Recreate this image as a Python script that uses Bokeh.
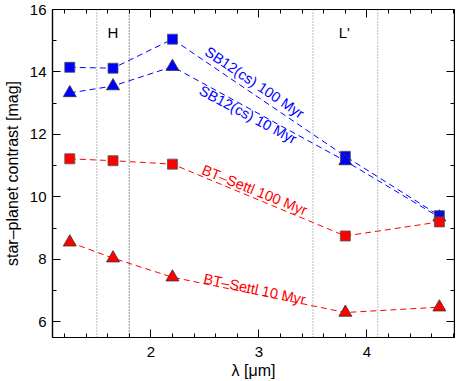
import math
from bokeh.plotting import figure
from bokeh.models import (LinearAxis, Span, Label, SingleIntervalTicker, ColumnDataSource,
                          CustomJSTickFormatter)
from bokeh.embed import file_html
from bokeh.resources import INLINE

# Data
wavelength = [1.25, 1.65, 2.2, 3.8, 4.67]
sb12_100 = [14.15, 14.12, 15.05, 11.3, 9.4]
sb12_10 = [13.33, 13.55, 14.17, 11.15, 9.35]
bt_100 = [11.22, 11.16, 11.05, 8.75, 9.2]
bt_10 = [8.55, 8.04, 7.43, 6.3, 6.47]
band_edges = [1.5, 1.8, 3.5, 4.1]
band_edge_colors = ["#777777", "#222222", "#777777", "#777777"]
band_names = ["H", "L'"]
band_centers = [1.65, 3.79]

FONT = "Liberation Sans"
BLUE = "#0000ff"
RED = "#ff0000"

p = figure(width=455, height=389, x_range=(1.09, 4.81), y_range=(5.5, 16),
           output_backend="svg", toolbar_location=None,
           min_border_left=41, min_border_right=1, min_border_top=17, min_border_bottom=44)
p.styles = {"margin-top": "-8px"}
p.xgrid.visible = False
p.ygrid.visible = False
p.outline_line_color = "black"
p.outline_line_width = 1.2
p.background_fill_color = "white"
p.border_fill_color = "white"

def style_axis(ax):
    ax.axis_line_color = "black"
    ax.axis_line_width = 1.2
    ax.major_tick_in = 8
    ax.major_tick_out = 0
    ax.minor_tick_in = 4
    ax.minor_tick_out = 0
    ax.major_tick_line_color = "black"
    ax.minor_tick_line_color = "black"
    ax.major_label_text_font = FONT
    ax.major_label_text_font_size = "15px"
    ax.major_label_text_color = "black"
    ax.axis_label_text_font = FONT
    ax.axis_label_text_font_size = "16px"
    ax.axis_label_text_font_style = "normal"
    ax.axis_label_text_color = "black"

p.xaxis.ticker = SingleIntervalTicker(interval=1, num_minor_ticks=5)
p.yaxis.ticker = SingleIntervalTicker(interval=2, num_minor_ticks=2)
p.xaxis.axis_label = "λ [μm]"
p.yaxis.axis_label = "star–planet contrast [mag]"
style_axis(p.xaxis[0])
style_axis(p.yaxis[0])
p.xaxis.major_label_standoff = 9
p.xaxis.axis_label_standoff = 2
p.yaxis.major_label_standoff = 6
p.yaxis.axis_label_standoff = 6

blank = CustomJSTickFormatter(code="return ''")
top = LinearAxis(ticker=SingleIntervalTicker(interval=1, num_minor_ticks=5), formatter=blank)
style_axis(top)
top.major_label_standoff = 0
p.add_layout(top, "above")
right = LinearAxis(ticker=SingleIntervalTicker(interval=2, num_minor_ticks=2), formatter=blank)
style_axis(right)
right.major_label_standoff = 0
p.add_layout(right, "right")

for x, c in zip(band_edges, band_edge_colors):
    p.add_layout(Span(location=x, dimension="height", line_color=c,
                      line_dash="1 2", line_width=1))

for name, xc in zip(band_names, band_centers):
    p.add_layout(Label(x=xc, y=15.25, text=name, text_font=FONT, text_font_size="15px",
                       text_align="center", text_baseline="middle", text_color="black"))

src = ColumnDataSource(dict(x=wavelength, s100=sb12_100, s10=sb12_10, b100=bt_100, b10=bt_10))

for col, color in [("s100", BLUE), ("s10", BLUE), ("b100", RED), ("b10", RED)]:
    p.line("x", col, source=src, line_color=color, line_dash="6 4", line_width=1)

p.scatter("x", "s100", source=src, marker="square", size=10, fill_color=BLUE,
          line_color="#555555", line_width=0.8)
p.scatter("x", "s10", source=src, marker="triangle", size=13, fill_color=BLUE,
          line_color="#333333", line_width=0.8)
p.scatter("x", "b100", source=src, marker="square", size=10, fill_color=RED,
          line_color="#555555", line_width=0.8)
p.scatter("x", "b10", source=src, marker="triangle", size=13, fill_color=RED,
          line_color="#333333", line_width=0.8)

labels = [
    ("SB12(cs) 100 Myr", 2.96, 13.66, -34, BLUE),
    ("SB12(cs) 10 Myr", 2.90, 12.63, -28, BLUE),
    ("BT–Settl 100 Myr", 2.96, 10.22, -22, RED),
    ("BT–Settl 10 Myr", 2.96, 7.05, -12, RED),
]
for txt, lx, ly, ang, c in labels:
    p.add_layout(Label(x=lx, y=ly, text=txt, angle=math.radians(ang), text_font=FONT,
                       text_font_size="14.5px", text_align="center", text_baseline="middle",
                       text_color=c))

open("out.html", "w").write(file_html(p, INLINE))
